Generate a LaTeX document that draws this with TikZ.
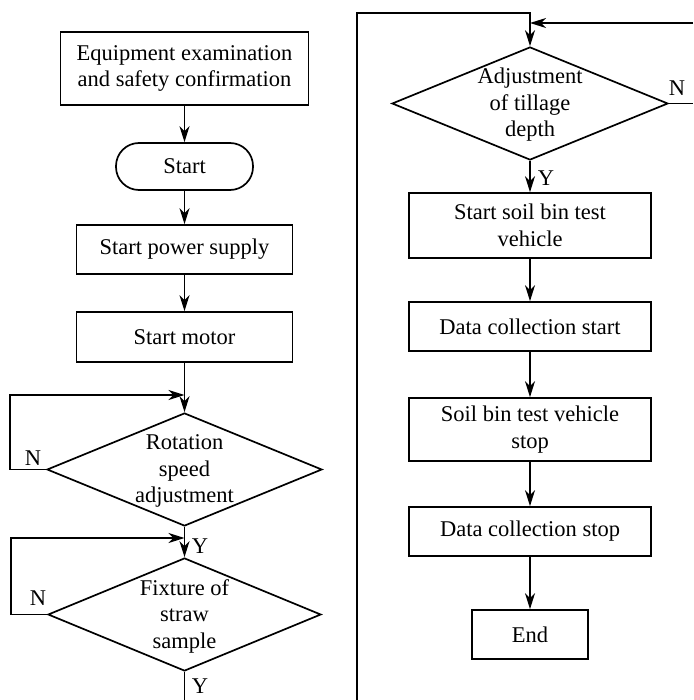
\documentclass[tikz,border=0pt]{standalone}
\usepackage{fontspec}
\setmainfont{Liberation Serif}
\usetikzlibrary{shapes.geometric,arrows.meta}
\begin{document}
\begin{tikzpicture}[x=1pt,y=-1pt,
  line width=1.7pt,
  every node/.style={font=\fontsize{22.5}{26.5}\selectfont, align=center, inner sep=0pt},
  box/.style={draw, rectangle, line width=1.7pt},
  term/.style={draw, rectangle, rounded corners=23pt, line width=1.7pt},
  dia/.style={draw, diamond, line width=1.7pt, inner sep=0pt},
  arr/.style={-{Stealth[length=16pt,width=10pt,inset=5pt]}},
  lbl/.style={font=\fontsize{22.5}{26.5}\selectfont}]
\useasboundingbox (0,0) rectangle (693,700);
% left column
\node[box, minimum width=248pt, minimum height=73pt] (b1) at (184.5,68.5) {Equipment examination\\and safety confirmation};
\node[term, minimum width=137pt, minimum height=47pt] (st) at (184.5,166.5) {Start};
\node[box, minimum width=216pt, minimum height=49pt] (pw) at (184.5,249.5) {Start power supply};
\node[box, minimum width=216pt, minimum height=50pt] (mo) at (184.5,337) {Start motor};
\node[dia, minimum width=275pt, minimum height=113pt] (d1) at (184.5,469.5) {};
\node (t1) at (184.5,471) {Rotation\\speed\\adjustment};
\node[dia, minimum width=273pt, minimum height=113pt] (d2) at (184.5,614.5) {};
\node (t2) at (184.5,616) {Fixture of\\straw\\sample};
\coordinate (j1) at (184.5,395);
\coordinate (j2) at (184.5,538);
\coordinate (lb) at (184.5,700);
\draw[arr] (b1) -- (st);
\draw[arr] (st) -- (pw);
\draw[arr] (pw) -- (mo);
\draw[arr] (mo) -- (d1.north);
\draw[arr] (d1.west) -- ++(-36,0) |- (j1);
\draw[arr] (d1.south) -- (d2.north);
\draw[arr] (d2.west) -- ++(-36,0) |- (j2);
\draw (d2.south) -- (lb);
\node[lbl] (n1) at (33,458) {N};
\node[lbl] (n2) at (38,598) {N};
\node[lbl] (y1) at (200,546) {Y};
\node[lbl] (y2) at (200,686) {Y};
% right column
\node[dia, minimum width=276pt, minimum height=113pt] (d3) at (530,103.5) {};
\node (t3) at (530,105) {Adjustment\\of tillage\\depth};
\node[box, minimum width=242pt, minimum height=65pt] (r1) at (530,225.5) {Start soil bin test\\vehicle};
\node[box, minimum width=242pt, minimum height=49pt] (r2) at (530,326.5) {Data collection start};
\node[box, minimum width=242pt, minimum height=63pt] (r3) at (530,429.5) {Soil bin test vehicle\\stop};
\node[box, minimum width=242pt, minimum height=49pt] (r4) at (530,531.5) {Data collection stop};
\node[box, minimum width=116pt, minimum height=49pt] (en) at (530,634.5) {End};
\coordinate (rb) at (357,700);
\coordinate (rt) at (530,13);
\coordinate (re) at (693,23);
\coordinate (j3) at (530,23);
\coordinate (rn) at (693,103.5);
\draw[arr] (rb) |- (rt) -- (d3.north);
\draw[arr] (re) -- (j3);
\draw (d3.east) -- (rn);
\draw[arr] (d3.south) -- (r1);
\draw[arr] (r1) -- (r2);
\draw[arr] (r2) -- (r3);
\draw[arr] (r3) -- (r4);
\draw[arr] (r4) -- (en);
\node[lbl] (n3) at (677,88) {N};
\node[lbl] (y3) at (546,178) {Y};
\end{tikzpicture}
\end{document}
